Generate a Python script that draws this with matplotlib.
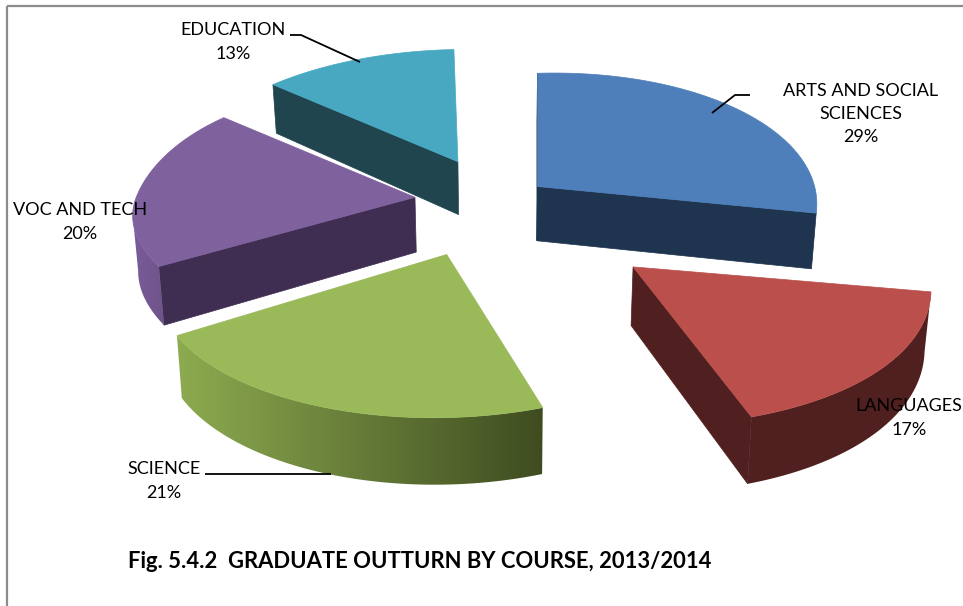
import numpy as np
import matplotlib
matplotlib.use("Agg")
import matplotlib.pyplot as plt
from matplotlib.colors import LinearSegmentedColormap
from matplotlib.patches import Polygon, Rectangle

categories = ["ARTS AND SOCIAL\nSCIENCES", "LANGUAGES", "SCIENCE", "VOC AND TECH", "EDUCATION"]
shares = [29, 17, 21, 20, 13]
title = "Fig. 5.4.2  GRADUATE OUTTURN BY COURSE, 2013/2014"

explode = [0.19, 0.69, 0.43, 0.285, 0.33]
scale = [0.97, 1.03, 1.0, 0.985, 1.0]
y_scale = [1.04, 0.95, 1.0, 1.0, 1.0]
tilt = [0.03, 0.03, 0.04, 0.0, 0.02]
near_shift = [0, 32, 11, 52, 0]
far_shift = [0, 0, 0, -23, -4]
top_colors = ["#4E7FBB", "#BB4F4C", "#9ABA5A", "#7F619E", "#48A8C2"]
radial_colors = ["#1F344F", "#4F201F", "#4F6030", "#402E52", "#20454F"]
wall_left = ["#1F344F", "#4F201F", "#8DAB50", "#7A5C99", "#20454F"]
wall_right = ["#1F344F", "#4F201F", "#3F4C20", "#6E5389", "#20454F"]

CX, CY, RX, RY, P = 495, 202, 283, 133, 0.185
label_xy = [(861, 114), (909, 418), (164, 481), (80, 222), (233, 42)]
leaders = [
    [(712, 113), (735, 95), (750, 95)],
    None,
    [(205, 474), (331, 474)],
    None,
    [(290, 35), (301, 35), (360, 62)],
]

fig = plt.figure(figsize=(9.63, 6.06), dpi=100)
ax = fig.add_axes([0, 0, 1, 1])
ax.axis("off")
ax.add_patch(Rectangle((6.5, 5.5), 970, 610, fill=False, ec="#8C8C8C", lw=1.6))


def top_point(theta, ox, oy, i):
    X, Y = np.cos(theta), np.sin(theta)
    w = 1 + P * Y
    k = scale[i]
    dx = k * RX * X / w + (near_shift[i] if Y < 0 else far_shift[i]) * Y * Y
    return np.array([ox + dx, oy - k * y_scale[i] * RY * Y / w - tilt[i] * dx])


def drop(p):
    return np.array([500 + (p[0] - 500) * 0.985, p[1] + 44 + 0.055 * p[1]])


fractions = np.array(shares) / sum(shares)
starts = np.pi / 2 - 2 * np.pi * np.concatenate([[0], np.cumsum(fractions)[:-1]])
ends = starts - 2 * np.pi * fractions

z = 2
for i in [4, 0, 3, 2, 1]:
    mid = (starts[i] + ends[i]) / 2
    ox = CX + RX * explode[i] * np.cos(mid)
    oy = CY - RY * explode[i] * np.sin(mid)
    apex = np.array([ox, oy])
    rim = [top_point(t, ox, oy, i) for t in np.linspace(starts[i], ends[i], 120)]

    # straight walls under the two cut edges, when they face the viewer
    for a, b in ((rim[-1], apex), (apex, rim[0])):
        if a[0] < b[0]:
            continue
        ax.add_patch(Polygon([a, b, drop(b), drop(a)], closed=True,
                             fc=radial_colors[i], ec=radial_colors[i], lw=0.5, zorder=z))

    # curved wall: only the run of the rim whose outward side faces the viewer
    idx = [j for j in range(len(rim) - 1) if rim[j + 1][0] < rim[j][0]]
    if idx:
        run = rim[idx[0]:idx[-1] + 2]
        wall = np.array(run + [drop(p) for p in run[::-1]])
        cmap = LinearSegmentedColormap.from_list("w", [wall_left[i], wall_right[i]])
        clip = Polygon(wall, closed=True, fc="none", ec="none", transform=ax.transData)
        ax.add_patch(clip)
        im = ax.imshow(np.linspace(0, 1, 256)[None, :], cmap=cmap, aspect="auto", zorder=z,
                       extent=(wall[:, 0].min(), wall[:, 0].max(), wall[:, 1].max(), wall[:, 1].min()))
        im.set_clip_path(clip)

    ax.add_patch(Polygon([apex] + rim, closed=True, fc=top_colors[i], ec=top_colors[i], lw=0.5, zorder=z + 0.5))
    z += 1

ax.set_xlim(0, 963)
ax.set_ylim(606, 0)

font = dict(family="Lato", fontsize=13, color="black")
for name, share, (x, y) in zip(categories, shares, label_xy):
    ax.text(x, y, f"{name}\n{share}%", ha="center", va="center", linespacing=1.55, zorder=20, **font)

for line in leaders:
    if line:
        xs, ys = zip(*line)
        ax.plot(xs, ys, color="black", lw=1.3, zorder=19, solid_capstyle="butt")

ax.text(128, 562, title, family="Lato", fontsize=15.8, fontweight="bold", ha="left", va="center", zorder=20)
fig.savefig("out.png", dpi=100)
